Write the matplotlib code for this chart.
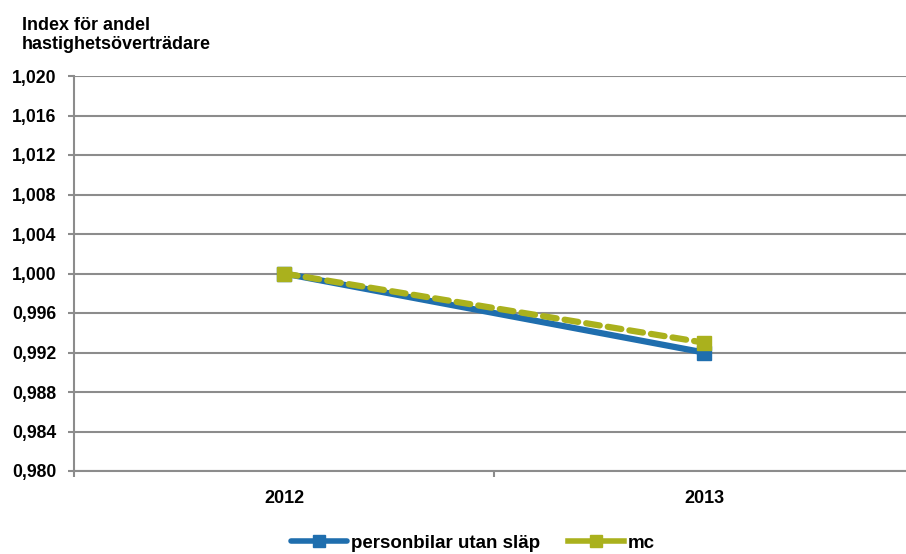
#!/usr/bin/env python3

import numpy as np
import matplotlib.pyplot as plt
from matplotlib.ticker import FuncFormatter

years = ['2012', '2013']
personbilar = [1.000, 0.992]
mc = [1.000, 0.993]
yticks = [0.980, 0.984, 0.988, 0.992, 0.996, 1.000, 1.004, 1.008, 1.012, 1.016, 1.020]

blue = '#1F6EAE'
olive = '#AAB11D'
grid = '#8C8C8C'

plt.rcParams['font.family'] = ['Liberation Sans', 'DejaVu Sans']
plt.rcParams['font.weight'] = 'bold'

W, H = 906, 554
fig = plt.figure(figsize=(W / 100, H / 100), dpi=100)
ax = fig.add_axes([74 / W, (H - 471) / H, 840 / W, 395 / H])

x = np.arange(len(years))
ax.plot(x, personbilar, color=blue, lw=4.5, marker='s', ms=10,
        solid_capstyle='round', label='personbilar utan släp', zorder=3)
ax.plot(x, mc, color=olive, lw=4.5, ls=(0, (2.2, 1.3)), marker='s', ms=10,
        dash_capstyle='round', label='mc', zorder=4)

ax.set_xlim(-0.5, 1.5)
ax.set_ylim(0.980, 1.020)
ax.set_yticks(yticks)
ax.yaxis.set_major_formatter(FuncFormatter(lambda v, p: f'{v:.3f}'.replace('.', ',')))
ax.set_xticks(x)
ax.set_xticklabels(years)
ax.set_xticks([-0.5, 0.5, 1.5], minor=True)
ax.tick_params(axis='x', which='major', length=0, pad=14, labelsize=13)
ax.tick_params(axis='x', which='minor', length=4, color=grid, width=1.5)
ax.tick_params(axis='y', length=4.5, color=grid, width=1.5, labelsize=12.7, pad=8)

ax.grid(axis='y', color=grid, lw=1.5)
ax.set_axisbelow(True)
for s in ['top', 'right']:
    ax.spines[s].set_visible(False)
for s in ['left', 'bottom']:
    ax.spines[s].set_color(grid)
    ax.spines[s].set_linewidth(1.5)

fig.text(22 / W, 1 - 35 / H, 'Index för andel\nhastighetsöverträdare',
         fontsize=13, fontweight='bold', va='center', ha='left', linespacing=1.15)

leg = fig.legend(loc='center', bbox_to_anchor=(473 / W, 1 - 543 / H), ncol=2,
                 frameon=False, fontsize=13.5, handlelength=3.0, columnspacing=1.5,
                 handletextpad=0.2, markerscale=1.0)
for h in leg.legend_handles:
    h.set_linestyle('-')
    h.set_linewidth(4)
    h.set_markersize(9)

fig.savefig('out.png', dpi=100)
